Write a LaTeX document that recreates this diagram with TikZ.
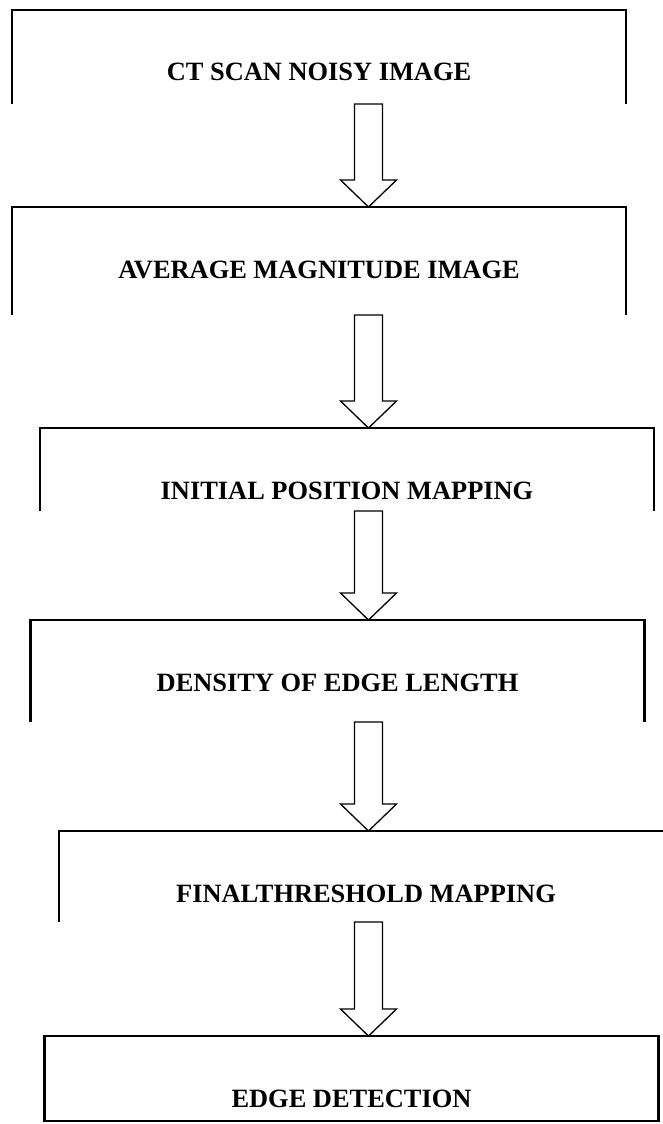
\documentclass[tikz,border=0pt]{standalone}
\usepackage{fontspec}
\setmainfont{Liberation Serif}
\usetikzlibrary{positioning, calc}
\tikzset{
    stagebox/.style={rectangle, minimum width=614pt, inner sep=0pt, outer sep=0pt},
    stagelbl/.style={font=\fontsize{26.4}{30}\selectfont\bfseries, anchor=base, inner sep=0pt},
    frame/.style={draw=black, line width=2.8pt, line join=miter},
    hollowarr/.style={draw=black, fill=white, line width=1.3pt, line join=miter}
}
% hollow block arrow: tail point, tip point
\newcommand{\hollowarrow}[2]{%
  \draw[hollowarr] let \p1=#1, \p2=#2 in
    (\x1-14pt,\y1) -- (\x1-14pt,\y2+27pt) -- (\x1-28pt,\y2+27pt) -- (\x2,\y2)
    -- (\x1+28pt,\y2+27pt) -- (\x1+14pt,\y2+27pt) -- (\x1+14pt,\y1) -- cycle;}

\begin{document}
\begin{tikzpicture}[x=1pt, y=-1pt]
    \useasboundingbox (0,0) rectangle (663,1124);
    \coordinate (axis) at (368.5,0);
    % stages
    \node[stagebox, minimum height=94pt] (b1) at (319,57) {};
    \node[stagebox, minimum height=108pt] (b2) at (319,261) {};
    \node[stagebox, minimum height=83pt] (b3) at (347,469.5) {};
    \node[stagebox, minimum height=102pt] (b4) at (337.5,671) {};
    \node[stagebox, minimum height=91pt] (b5) at (366,876.5) {};
    \node[stagebox, minimum height=85pt] (b6) at (351.5,1078.5) {};
    \node[stagelbl] (t1) at ([yshift=-71pt]b1.north) {CT SCAN NOISY IMAGE};
    \node[stagelbl] (t2) at ([yshift=-71pt]b2.north) {AVERAGE MAGNITUDE IMAGE};
    \node[stagelbl] (t3) at ([yshift=-71pt]b3.north) {INITIAL POSITION MAPPING};
    \node[stagelbl] (t4) at ([yshift=-71pt]b4.north) {DENSITY OF EDGE LENGTH};
    \node[stagelbl] (t5) at ([yshift=-71pt]b5.north) {FINALTHRESHOLD MAPPING};
    \node[stagelbl] (t6) at ([yshift=-71pt]b6.north) {EDGE DETECTION};
    \foreach \b in {b1,b2,b3,b4,b5}
      \draw[frame] (\b.south west) |- (\b.north east) -- (\b.south east);
    \draw[frame] (b6.south west) rectangle (b6.north east);
    % arrows
    \hollowarrow{(b1.south -| axis)}{(b2.north -| axis)}
    \hollowarrow{(b2.south -| axis)}{(b3.north -| axis)}
    \hollowarrow{(b3.south -| axis)}{(b4.north -| axis)}
    \hollowarrow{(b4.south -| axis)}{(b5.north -| axis)}
    \hollowarrow{(b5.south -| axis)}{(b6.north -| axis)}
\end{tikzpicture}
\end{document}
